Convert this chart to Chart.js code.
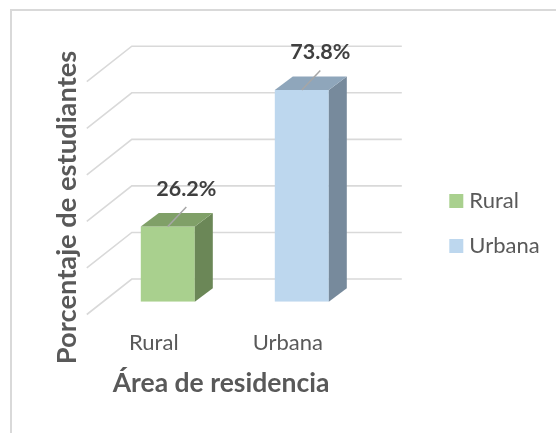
<!DOCTYPE html>
<html>
<head>
<meta charset="utf-8">
<script src="https://cdn.jsdelivr.net/npm/chart.js@4.4.1/dist/chart.umd.min.js"></script>
<style>
  html, body { margin: 0; padding: 0; background: #fff; }
  #wrap { position: relative; width: 556px; height: 433px; overflow: hidden; }
  #frame { position: absolute; left: 10px; top: 9px; width: 600px; height: 500px; border: 2px solid #d9d9d9; }
  canvas { position: absolute; left: 0; top: 0; }
</style>
</head>
<body>
<div id="wrap">
  <div id="frame"></div>
  <canvas id="myChart" width="556" height="433"></canvas>
</div>
<script>
// data
const categories = ['Rural', 'Urbana'];
const percentages = [26.2, 73.8];
const gridValues = [0, 20, 40, 60, 80, 100];
const axisTitleX = 'Área de residencia';
const axisTitleY = 'Porcentaje de estudiantes';

// styling
const frontColors = ['#A9D08E', '#BDD7EE'];
const sideColors = ['#6B8757', '#778A9C'];
const topColors = ['#80A068', '#8FA6BB'];
const FONT = 'Lato, "Open Sans", sans-serif';
const depth = { dx: 18, dy: -13.5 };           // 3d depth of the bars
const wall = { dx: 31, dy: -22.7, k: 0.811 };  // back wall relative to bar front

// back wall grid lines + left wall diagonals
const backWall = {
    id: 'backWall',
    beforeDatasetsDraw(chart) {
        const { ctx, chartArea, scales: { y } } = chart;
        const zero = y.getPixelForValue(0);
        ctx.save();
        ctx.strokeStyle = '#D9D9D9';
        ctx.lineWidth = 1.6;
        gridValues.forEach(v => {
            const yb = zero + wall.dy - (zero - y.getPixelForValue(v)) * wall.k;
            const xb = chartArea.left + wall.dx;
            ctx.beginPath();
            ctx.moveTo(xb - 45, yb + 35.5);
            ctx.lineTo(xb, yb);
            ctx.lineTo(chartArea.right + 33, yb);
            ctx.stroke();
        });
        ctx.restore();
    }
};

// side / top faces, leader lines and value labels
const bars3d = {
    id: 'bars3d',
    afterDatasetsDraw(chart) {
        const { ctx } = chart;
        const meta = chart.getDatasetMeta(0);
        ctx.save();
        meta.data.forEach((bar, i) => {
            const { x, y, base, width } = bar.getProps(['x', 'y', 'base', 'width'], true);
            const l = x - width / 2, r = x + width / 2;
            ctx.fillStyle = sideColors[i];
            ctx.beginPath();
            ctx.moveTo(r, y);
            ctx.lineTo(r + depth.dx, y + depth.dy);
            ctx.lineTo(r + depth.dx, base + depth.dy);
            ctx.lineTo(r, base);
            ctx.closePath();
            ctx.fill();

            ctx.fillStyle = topColors[i];
            ctx.beginPath();
            ctx.moveTo(l, y);
            ctx.lineTo(l + depth.dx, y + depth.dy);
            ctx.lineTo(r + depth.dx, y + depth.dy);
            ctx.lineTo(r, y);
            ctx.closePath();
            ctx.fill();

            // leader line
            ctx.strokeStyle = '#A6A6A6';
            ctx.lineWidth = 1.5;
            ctx.beginPath();
            ctx.moveTo(x, y);
            ctx.lineTo(x + 18.5, y - 19.5);
            ctx.stroke();

            ctx.fillStyle = '#404040';
            ctx.font = 'bold 21.5px ' + FONT;
            ctx.textAlign = 'center';
            ctx.textBaseline = 'middle';
            ctx.fillText(percentages[i].toFixed(1) + '%', x + 18.5, y - 37.5);
        });
        ctx.restore();
    }
};

// axis titles and legend
const titlesAndLegend = {
    id: 'titlesAndLegend',
    afterDraw(chart) {
        const { ctx, chartArea } = chart;
        ctx.save();
        ctx.fillStyle = '#595959';
        ctx.textAlign = 'center';
        ctx.textBaseline = 'middle';
        ctx.font = 'bold 26.5px ' + FONT;
        ctx.fillText(axisTitleX, 221, 383);
        ctx.font = 'bold 27.3px ' + FONT;
        ctx.translate(66.7, 207.5);
        ctx.rotate(-Math.PI / 2);
        ctx.fillText(axisTitleY, 0, 0);
        ctx.restore();

        ctx.save();
        ctx.font = '22px ' + FONT;
        ctx.textBaseline = 'middle';
        categories.forEach((c, i) => {
            const cy = 201 + i * 45;
            const bx = chartArea.right + 80.5;
            ctx.fillStyle = frontColors[i];
            ctx.fillRect(bx, cy - 7, 14, 14);
            ctx.fillStyle = '#595959';
            ctx.fillText(c, bx + 20, cy);
        });
        ctx.restore();
    }
};

const ctx = document.getElementById('myChart').getContext('2d');
new Chart(ctx, {
    type: 'bar',
    data: {
        labels: categories,
        datasets: [{
            label: 'Porcentaje',
            data: percentages,
            backgroundColor: frontColors,
            borderWidth: 0,
            categoryPercentage: 1,
            barPercentage: 0.403
        }]
    },
    options: {
        responsive: false,
        animation: false,
        layout: { padding: { left: 100.8, right: 187.2, top: 14.7, bottom: 48.7 } },
        plugins: { legend: { display: false }, tooltip: { enabled: false } },
        scales: {
            x: {
                grid: { display: false, drawTicks: false },
                border: { display: false },
                ticks: {
                    color: '#595959',
                    font: { family: FONT, size: 22 },
                    padding: 28.1,
                    labelOffset: -14
                }
            },
            y: {
                display: false,
                min: 0,
                max: 100
            }
        }
    },
    plugins: [backWall, bars3d, titlesAndLegend]
});
</script>
</body>
</html>
